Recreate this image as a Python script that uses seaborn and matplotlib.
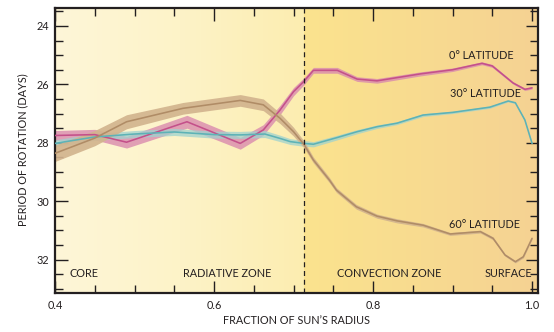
import numpy as np
import pandas as pd
import matplotlib
matplotlib.use("Agg")
import matplotlib.pyplot as plt
from matplotlib.colors import LinearSegmentedColormap
from matplotlib.ticker import MultipleLocator
import seaborn as sns

# ---------------- data ----------------
lat0_x = [0.40, 0.45, 0.49, 0.566, 0.633, 0.662, 0.683, 0.70, 0.713, 0.725, 0.755,
          0.78, 0.805, 0.86, 0.90, 0.937, 0.95, 0.976, 0.991, 1.0]
lat0_y = [27.75, 27.72, 27.98, 27.28, 28.02, 27.56, 26.88, 26.25, 25.9, 25.52, 25.52,
          25.82, 25.88, 25.64, 25.5, 25.28, 25.37, 25.95, 26.17, 26.12]
lat0_err = [0.17, 0.18, 0.2, 0.22, 0.2, 0.18, 0.16, 0.14, 0.12, 0.1, 0.1,
            0.08, 0.08, 0.07, 0.06, 0.05, 0.05, 0.04, 0.04, 0.04]

lat30_x = [0.40, 0.45, 0.50, 0.55, 0.60, 0.633, 0.664, 0.683, 0.696, 0.713, 0.725,
           0.755, 0.78, 0.805, 0.83, 0.863, 0.90, 0.947, 0.97, 0.979, 0.991, 1.0]
lat30_y = [28.02, 27.8, 27.7, 27.63, 27.72, 27.73, 27.7, 27.85, 27.96, 28.02, 28.05,
           27.82, 27.62, 27.45, 27.33, 27.05, 26.96, 26.78, 26.57, 26.63, 27.22, 28.02]
lat30_err = [0.12, 0.12, 0.12, 0.12, 0.12, 0.12, 0.12, 0.11, 0.1, 0.1, 0.09,
             0.08, 0.07, 0.06, 0.05, 0.05, 0.04, 0.04, 0.03, 0.03, 0.03, 0.03]

lat60_x = [0.40, 0.45, 0.49, 0.561, 0.633, 0.662, 0.683, 0.70, 0.713, 0.725, 0.745,
           0.754, 0.779, 0.805, 0.83, 0.863, 0.897, 0.935, 0.951, 0.966, 0.979, 0.989, 1.0]
lat60_y = [28.36, 27.84, 27.28, 26.82, 26.55, 26.7, 27.16, 27.62, 28.05, 28.59, 29.27,
           29.62, 30.19, 30.51, 30.67, 30.82, 31.12, 31.04, 31.27, 31.84, 32.07, 31.9, 31.27]
lat60_err = [0.28, 0.26, 0.24, 0.2, 0.2, 0.2, 0.18, 0.15, 0.12, 0.1, 0.09,
             0.08, 0.08, 0.07, 0.07, 0.06, 0.05, 0.05, 0.05, 0.04, 0.04, 0.04, 0.04]

series_names = ["0° LATITUDE", "30° LATITUDE", "60° LATITUDE"]
zone_labels = ["CORE", "RADIATIVE ZONE", "CONVECTION ZONE", "SURFACE"]
zone_x = [0.4365, 0.6164, 0.82, 0.970]
x_ticks = [0.4, 0.6, 0.8, 1.0]
x_ticklabels = ["0.4", "0.6", "0.8", "1.0"]
y_ticks = [24, 26, 28, 30, 32]
tachocline = 0.7136

# ---------------- styling ----------------
sns.set_theme(style="ticks")
plt.rcParams["font.family"] = ["Lato", "DejaVu Sans"]
TXT = "#231f20"

line_cols = {"0° LATITUDE": "#c4508a", "30° LATITUDE": "#5db2b6", "60° LATITUDE": "#b08c66"}
band_cols = {"0° LATITUDE": "#d98aae", "30° LATITUDE": "#9fd3cf", "60° LATITUDE": "#d2b48e"}
band_alpha = {"0° LATITUDE": 0.8, "30° LATITUDE": 0.75, "60° LATITUDE": 0.92}

frames = []
for name, xs, ys, es in [(series_names[0], lat0_x, lat0_y, lat0_err),
                         (series_names[1], lat30_x, lat30_y, lat30_err),
                         (series_names[2], lat60_x, lat60_y, lat60_err)]:
    frames.append(pd.DataFrame({"r": xs, "period": ys, "err": es, "lat": name}))
df = pd.concat(frames, ignore_index=True)

fig = plt.figure(figsize=(5.54, 3.32), dpi=100)
ax = fig.add_axes([55 / 554, 1 - 292.7 / 332, (538 - 55) / 554, (292.7 - 7.5) / 332])

xmin, xmax = 0.4, 1.0075
ymin, ymax = 23.37, 33.13

# background gradients
cm_left = LinearSegmentedColormap.from_list("l", ["#fef6d8", "#fdf3c8", "#fcedb0"])
cm_right = LinearSegmentedColormap.from_list("r", ["#fbe38e", "#f8db90", "#f5d293"])
grad = np.linspace(0, 1, 256).reshape(1, -1)
ax.imshow(grad, cmap=cm_left, aspect="auto", extent=[xmin, tachocline, ymax, ymin], zorder=0)
ax.imshow(grad, cmap=cm_right, aspect="auto", extent=[tachocline, xmax, ymax, ymin], zorder=0)

# uncertainty bands
for z, name in enumerate([series_names[0], series_names[1], series_names[2]]):
    d = df[df["lat"] == name]
    ax.fill_between(d["r"], d["period"] - d["err"], d["period"] + d["err"],
                    color=band_cols[name], alpha=band_alpha[name], lw=0, zorder=2 + 0.1 * z)

sns.lineplot(data=df, x="r", y="period", hue="lat", palette=line_cols,
             estimator=None, sort=False, legend=False, lw=1.15, ax=ax, zorder=3)

ax.axvline(tachocline, color=TXT, lw=0.9, ls=(0, (4, 3)), zorder=4)

ax.set_xlim(xmin, xmax)
ax.set_ylim(ymax, ymin)

ax.set_xticks(x_ticks)
ax.set_xticklabels(x_ticklabels)
ax.set_yticks(y_ticks)
ax.xaxis.set_minor_locator(MultipleLocator(0.05))
ax.yaxis.set_minor_locator(MultipleLocator(0.5))
ax.tick_params(which="both", direction="in", top=True, right=True, colors=TXT,
               labelsize=7.8, width=1.0)
ax.tick_params(which="major", length=9, pad=4)
ax.tick_params(which="minor", length=6)
ax.tick_params(axis="x", which="major", pad=5)

for s in ax.spines.values():
    s.set_color(TXT)
    s.set_linewidth(1.6)

ax.set_xlabel("FRACTION OF SUN’S RADIUS", fontsize=7.8, color=TXT, labelpad=3)
ax.set_ylabel("PERIOD OF ROTATION (DAYS)", fontsize=7.8, color=TXT, labelpad=6)

# series labels
label_pos = [(0.936, 25.02), (0.941, 26.31), (0.94, 30.79)]
for name, (lx, ly) in zip(series_names, label_pos):
    ax.text(lx, ly, name, fontsize=7.8, color=TXT, ha="center", va="center", zorder=5)

for lab, zx in zip(zone_labels, zone_x):
    ax.text(zx, 32.48, lab, fontsize=7.8, color=TXT, ha="center", va="center", zorder=5)

fig.savefig("out.png", dpi=100)
